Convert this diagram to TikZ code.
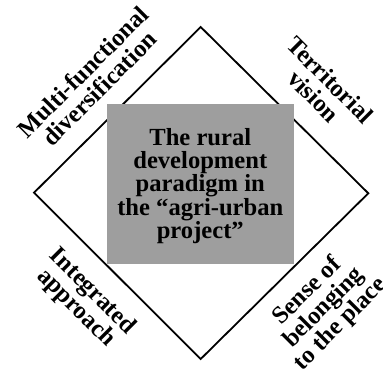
\documentclass[tikz,border=0pt]{standalone}
\usepackage{fontspec}
\setmainfont{Liberation Serif}
\definecolor{boxgray}{RGB}{158,158,158}
\begin{document}
\begin{tikzpicture}[x=1pt,y=1pt,
  lbl/.style={font=\fontsize{24.6}{23.3}\selectfont\bfseries, align=center, inner sep=0pt},
  edge/.style={draw=black, line width=1.8pt, line join=miter}]
\clip (0,0) rectangle (383,378);
\coordinate (L) at (34,185.3);
\coordinate (T) at (200.7,351);
\coordinate (R) at (368.3,184.7);
\coordinate (B) at (200.7,19);
\draw[edge] (L) -- (T) -- (R) -- (B) -- cycle;
\fill[boxgray] (107,274) rectangle (294,114);
\node[lbl] (center) at (200.3,192) {The rural\\development\\paradigm in\\the “agri-urban\\project”};
\node[lbl, rotate=45] (mf) at (91,298) {Multi-functional\\diversification};
\node[lbl, rotate=-45] (tv) at (322,290) {Territorial\\vision};
\node[lbl, rotate=-45] (ia) at (84,78) {Integrated\\approach};
\node[lbl, rotate=45] (sb) at (324,70) {Sense of\\belonging\\to the place};
\end{tikzpicture}
\end{document}
